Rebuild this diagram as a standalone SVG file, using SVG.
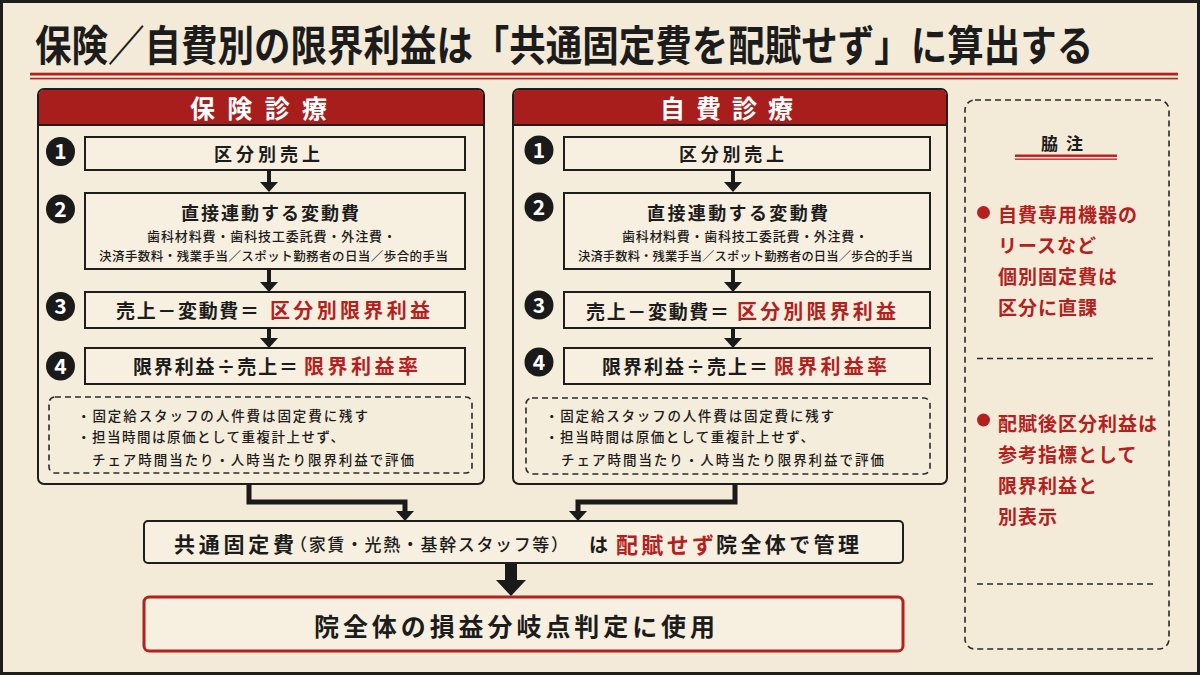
<svg xmlns="http://www.w3.org/2000/svg" width="1200" height="675" viewBox="0 0 1200 675">
<defs>
<style>
.t{font-family:"Noto Sans CJK JP","Noto Sans",sans-serif;font-weight:700;fill:#1c1c1c}
.m{font-family:"Noto Sans CJK JP","Noto Sans",sans-serif;font-weight:500;fill:#1c1c1c}
.r{fill:#b3201e}
.w{fill:#ffffff}
.panel{fill:#f5eddb;stroke:#1e1e1e;stroke-width:2}
.head{fill:#a81e1c}
.box{fill:#f7f0e0;stroke:#1e1e1e;stroke-width:2}
.dash{fill:none;stroke:#2a2a2a;stroke-width:1.6;stroke-dasharray:6 4}
.num{fill:#1a1a1a}
.arr{stroke:#1a1a1a;stroke-width:4;fill:none}
.arrw{stroke:#1a1a1a;stroke-width:5;fill:none;stroke-linejoin:miter}
.sep{stroke:#2a2a2a;stroke-width:1.5;stroke-dasharray:6 4}
</style>
<marker id="ah" markerUnits="userSpaceOnUse" viewBox="0 0 10 18" markerWidth="10" markerHeight="18" refX="0" refY="9" orient="auto">
<path d="M0,0 L10,9 L0,18 z" fill="#1a1a1a"/>
</marker>
</defs>

<rect x="0" y="0" width="1200" height="675" fill="#f3ebd8"/>
<rect x="1.5" y="1.5" width="1197" height="672" fill="none" stroke="#1e1e1e" stroke-width="3"/>

<g id="title">
<text class="t" transform="translate(35,61) scale(1,1.16)" x="0" y="0" font-size="36.5" font-weight="900">保険／自費別の限界利益は「共通固定費を配賦せず」に算出する</text>
<rect x="30" y="72.7" width="1148" height="2.8" fill="#b3201e"/>
<rect x="30" y="77.8" width="1148" height="1.6" fill="#b3201e"/>
</g>

<!-- Left panel -->
<g id="panel-hoken">
<rect class="panel" x="38" y="89" width="446" height="395" rx="6"/>
<path class="head" d="M44,90 H478 Q483,90 483,95 V125 H39 V95 Q39,90 44,90 z"/>
<line x1="39" y1="125" x2="483" y2="125" stroke="#1e1e1e" stroke-width="2"/>
<text class="t w" x="190" y="118" font-size="25" textLength="137" lengthAdjust="spacing">保険診療</text>
</g>

<g id="hoken-step1">
<circle class="num" cx="60.5" cy="151.5" r="14.5"/>
<text class="t w" x="60.5" y="159" font-size="21" text-anchor="middle">1</text>
<rect class="box" x="85" y="137" width="380" height="33"/>
<text class="t" x="214" y="161" font-size="18" textLength="106" lengthAdjust="spacing">区分別売上</text>
</g>
<g id="hoken-step2">
<circle class="num" cx="60.5" cy="209" r="14.5"/>
<text class="t w" x="60.5" y="216.5" font-size="21" text-anchor="middle">2</text>
<rect class="box" x="85" y="193" width="380" height="76"/>
<text class="t" x="181" y="220" font-size="18" textLength="178" lengthAdjust="spacing">直接連動する変動費</text>
<text class="m" x="147" y="241" font-size="13" textLength="249" lengthAdjust="spacing">歯科材料費・歯科技工委託費・外注費・</text>
<text class="m" x="99" y="261" font-size="12.5" textLength="349" lengthAdjust="spacing">決済手数料・残業手当／スポット勤務者の日当／歩合的手当</text>
</g>
<g id="hoken-step3">
<circle class="num" cx="60.5" cy="306.5" r="14.5"/>
<text class="t w" x="60.5" y="314" font-size="21" text-anchor="middle">3</text>
<rect class="box" x="85" y="292" width="380" height="36"/>
<text class="t" x="116" y="318" font-size="19" textLength="143" lengthAdjust="spacing">売上－変動費＝</text>
<text class="t r" x="270" y="318" font-size="20" textLength="160" lengthAdjust="spacing">区分別限界利益</text>
</g>
<g id="hoken-step4">
<circle class="num" cx="60.5" cy="366" r="14.5"/>
<text class="t w" x="60.5" y="373.5" font-size="21" text-anchor="middle">4</text>
<rect class="box" x="85" y="348" width="380" height="36"/>
<text class="t" x="133" y="374" font-size="19" textLength="165" lengthAdjust="spacing">限界利益÷売上＝</text>
<text class="t r" x="304" y="374" font-size="20" textLength="114" lengthAdjust="spacing">限界利益率</text>
</g>
<g id="hoken-note">
<rect class="dash" x="49" y="397" width="423" height="76" rx="6"/>
<text class="m" x="77" y="421" font-size="13.5" textLength="291" lengthAdjust="spacing">・固定給スタッフの人件費は固定費に残す</text>
<text class="m" x="77" y="442" font-size="13.5" textLength="267" lengthAdjust="spacing">・担当時間は原価として重複計上せず、</text>
<text class="m" x="92" y="465" font-size="13.5" textLength="322" lengthAdjust="spacing">チェア時間当たり・人時当たり限界利益で評価</text>
</g>

<!-- Right panel -->
<g id="panel-jihi">
<rect class="panel" x="513" y="89" width="434" height="395" rx="6"/>
<path class="head" d="M519,90 H941 Q946,90 946,95 V125 H514 V95 Q514,90 519,90 z"/>
<line x1="514" y1="125" x2="946" y2="125" stroke="#1e1e1e" stroke-width="2"/>
<text class="t w" x="660" y="118" font-size="25" textLength="133" lengthAdjust="spacing">自費診療</text>
</g>

<g id="jihi-step1">
<circle class="num" cx="539" cy="150" r="14.5"/>
<text class="t w" x="539" y="157.5" font-size="21" text-anchor="middle">1</text>
<rect class="box" x="564" y="137" width="366" height="33"/>
<text class="t" x="679" y="161" font-size="18" textLength="105" lengthAdjust="spacing">区分別売上</text>
</g>
<g id="jihi-step2">
<circle class="num" cx="539" cy="207" r="14.5"/>
<text class="t w" x="539" y="214.5" font-size="21" text-anchor="middle">2</text>
<rect class="box" x="564" y="193" width="366" height="76"/>
<text class="t" x="647" y="220" font-size="18" textLength="181" lengthAdjust="spacing">直接連動する変動費</text>
<text class="m" x="622" y="241" font-size="13" textLength="246" lengthAdjust="spacing">歯科材料費・歯科技工委託費・外注費・</text>
<text class="m" x="578" y="261" font-size="12.3" textLength="335" lengthAdjust="spacing">決済手数料・残業手当／スポット勤務者の日当／歩合的手当</text>
</g>
<g id="jihi-step3">
<circle class="num" cx="539" cy="305" r="14.5"/>
<text class="t w" x="539" y="312.5" font-size="21" text-anchor="middle">3</text>
<rect class="box" x="564" y="292" width="366" height="36"/>
<text class="t" x="586" y="319" font-size="19" textLength="143" lengthAdjust="spacing">売上－変動費＝</text>
<text class="t r" x="737" y="319" font-size="20" textLength="159" lengthAdjust="spacing">区分別限界利益</text>
</g>
<g id="jihi-step4">
<circle class="num" cx="539" cy="362" r="14.5"/>
<text class="t w" x="539" y="369.5" font-size="21" text-anchor="middle">4</text>
<rect class="box" x="564" y="348" width="366" height="36"/>
<text class="t" x="602" y="374" font-size="19" textLength="166" lengthAdjust="spacing">限界利益÷売上＝</text>
<text class="t r" x="774" y="374" font-size="20" textLength="113" lengthAdjust="spacing">限界利益率</text>
</g>
<g id="jihi-note">
<rect class="dash" x="526" y="398" width="404" height="76" rx="6"/>
<text class="m" x="545" y="421" font-size="13.5" textLength="289" lengthAdjust="spacing">・固定給スタッフの人件費は固定費に残す</text>
<text class="m" x="545" y="442" font-size="13.5" textLength="269" lengthAdjust="spacing">・担当時間は原価として重複計上せず、</text>
<text class="m" x="561" y="465" font-size="13.5" textLength="323" lengthAdjust="spacing">チェア時間当たり・人時当たり限界利益で評価</text>
</g>

<!-- Common fixed cost -->
<g id="common-fixed">
<rect class="box" x="144" y="521" width="759" height="42" rx="4"/>
<text class="t" x="174" y="552" font-size="21" textLength="120" lengthAdjust="spacing">共通固定費</text>
<text class="m" x="290" y="551" font-size="17" textLength="278" lengthAdjust="spacing">（家賃・光熱・基幹スタッフ等）</text>
<text class="t" x="589" y="552" font-size="19">は</text>
<text class="t r" x="616" y="553" font-size="22" textLength="98" lengthAdjust="spacing">配賦せず</text>
<text class="t" x="716" y="552" font-size="21" textLength="143" lengthAdjust="spacing">院全体で管理</text>
</g>

<g id="breakeven">
<rect x="144" y="597" width="759" height="54" rx="5" fill="#f7f0e0" stroke="#b3201e" stroke-width="3"/>
<text class="t" x="314" y="636" font-size="25" textLength="401" lengthAdjust="spacing">院全体の損益分岐点判定に使用</text>
</g>

<!-- Side note -->
<g id="sidenote">
<rect class="dash" x="965" y="100" width="204" height="549" rx="10" stroke-width="1.8"/>
<text class="t" x="1041" y="150" font-size="17" textLength="42" lengthAdjust="spacing">脇注</text>
<rect x="1015" y="154.5" width="102" height="2.4" fill="#b3201e"/>
<rect x="1015" y="158.5" width="102" height="1.3" fill="#b3201e"/>
<circle cx="983.5" cy="212.5" r="6.5" fill="#b3201e"/>
<text class="t r" font-size="19" letter-spacing="1">
<tspan x="998" y="222">自費専用機器の</tspan>
<tspan x="998" y="253">リースなど</tspan>
<tspan x="998" y="284">個別固定費は</tspan>
<tspan x="998" y="315">区分に直課</tspan>
</text>
<line class="sep" x1="977" y1="358.5" x2="1157" y2="358.5"/>
<circle cx="983.5" cy="420" r="6.5" fill="#b3201e"/>
<text class="t r" font-size="19" letter-spacing="1">
<tspan x="998" y="431">配賦後区分利益は</tspan>
<tspan x="998" y="462">参考指標として</tspan>
<tspan x="998" y="493">限界利益と</tspan>
<tspan x="998" y="524">別表示</tspan>
</text>
<line class="sep" x1="977" y1="584" x2="1157" y2="584"/>
</g>

<!-- Connectors -->
<g id="connectors">
<line class="arr" x1="269" y1="170" x2="269" y2="182" marker-end="url(#ah)"/>
<line class="arr" x1="269" y1="269" x2="269" y2="282" marker-end="url(#ah)"/>
<line class="arr" x1="269" y1="328" x2="269" y2="338" marker-end="url(#ah)"/>
<line class="arr" x1="733" y1="170" x2="733" y2="182" marker-end="url(#ah)"/>
<line class="arr" x1="733" y1="269" x2="733" y2="282" marker-end="url(#ah)"/>
<line class="arr" x1="733" y1="328" x2="733" y2="338" marker-end="url(#ah)"/>
<path class="arrw" d="M249,484 V502 H405 V511" marker-end="url(#ah)"/>
<path class="arrw" d="M735,484 V502 H578 V511" marker-end="url(#ah)"/>
<polygon points="505,564 517,564 517,580 526,580 511,596 496,580 505,580" fill="#1a1a1a"/>
</g>
</svg>
